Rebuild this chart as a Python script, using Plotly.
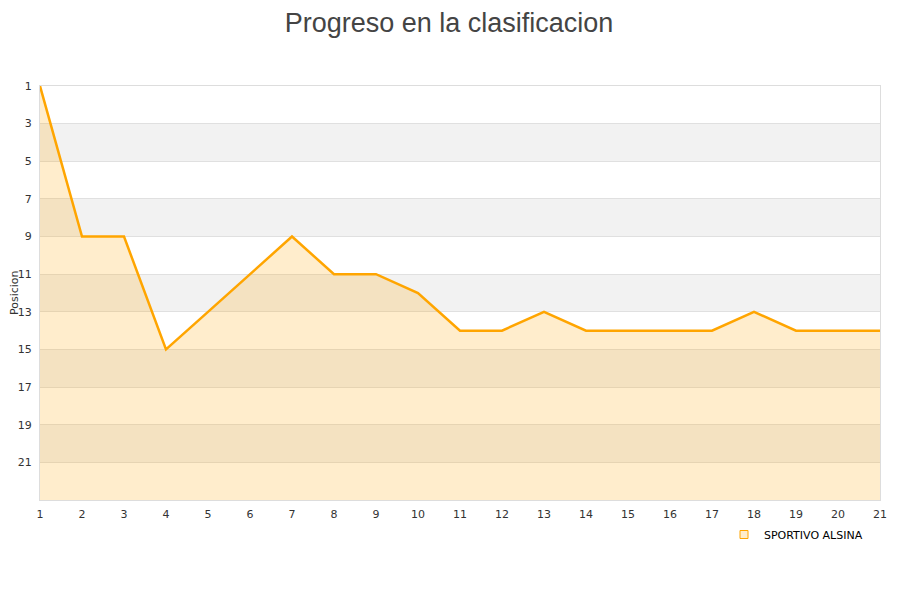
import plotly.graph_objects as go

jornadas = list(range(1, 22))
posiciones = [1, 9, 9, 15, 13, 11, 9, 11, 11, 12, 14, 14, 13, 14, 14, 14, 14, 13, 14, 14, 14]
equipo = "SPORTIVO ALSINA"
y_ticks = list(range(1, 23, 2))
y_min, y_max = 1, 23

fig = go.Figure()
# baseline for the fill
fig.add_trace(go.Scatter(x=jornadas, y=[y_max] * len(jornadas), mode="lines",
                         line=dict(width=0, color="rgba(0,0,0,0)"),
                         showlegend=False, hoverinfo="skip"))
fig.add_trace(go.Scatter(x=jornadas, y=posiciones, mode="lines", name=equipo,
                         line=dict(color="#FFA500", width=2.5),
                         fill="tonexty", fillcolor="rgba(255,165,0,0.2)",
                         showlegend=False))
# legend entry with square symbol
fig.add_trace(go.Scatter(x=[None], y=[None], mode="markers", name=equipo,
                         marker=dict(symbol="square", size=8,
                                     color="rgba(255,165,0,0.2)",
                                     line=dict(color="#FFA500", width=1))))

shapes = []
for i, t in enumerate(y_ticks[:-1]):
    if i % 2 == 1:
        shapes.append(dict(type="rect", xref="paper", x0=0, x1=1, yref="y",
                           y0=t, y1=t + 2, fillcolor="#F2F2F2",
                           line=dict(width=0), layer="below"))

fig.update_layout(
    width=900, height=600,
    paper_bgcolor="white", plot_bgcolor="white",
    margin=dict(l=32, r=28, t=78, b=108, autoexpand=False),
    title=dict(text="Progreso en la clasificacion", x=441 / 900, xanchor="center",
               y=1 - 5 / 600, yanchor="top",
               font=dict(family="Liberation Sans, Arial", size=27, color="#444444")),
    font=dict(family="DejaVu Sans", size=11, color="#333333"),
    shapes=shapes,
    annotations=[dict(text="Posicion", textangle=-90, xref="paper", yref="paper",
                      x=-26 / 840, y=0.5, xanchor="center", yanchor="middle",
                      showarrow=False, font=dict(size=11, color="#333333"))],
    showlegend=True,
    legend=dict(x=1 - 12 / 840, xanchor="right", y=-20 / 414, yanchor="top",
                font=dict(family="DejaVu Sans", size=11, color="#000000"),
                bgcolor="rgba(0,0,0,0)"),
    xaxis=dict(range=[1, 21], tickmode="linear", tick0=1, dtick=1,
               showgrid=False, zeroline=False, showline=True,
               linecolor="#DDDDDD", mirror=True, ticks="outside", ticklen=4,
               tickcolor="rgba(0,0,0,0)",
               tickfont=dict(size=11, color="#333333")),
    yaxis=dict(range=[y_max, y_min], tickvals=y_ticks,
               showgrid=True, gridcolor="#E0E0E0", zeroline=False,
               showline=True, linecolor="#DDDDDD", mirror=True,
               ticks="outside", ticklen=5, tickcolor="rgba(0,0,0,0)",
               tickfont=dict(size=11, color="#333333")),
)

fig.write_html("out.html")
